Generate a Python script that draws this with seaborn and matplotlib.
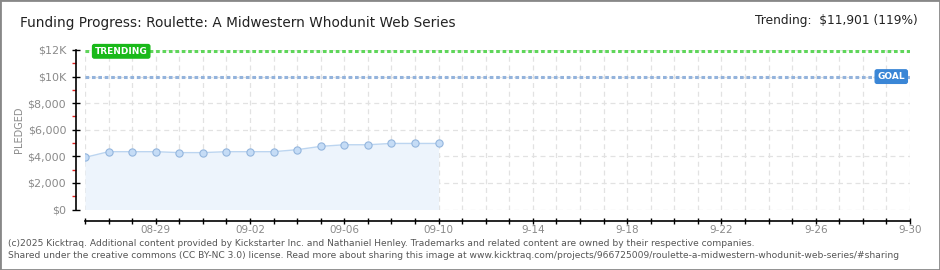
import numpy as np
import pandas as pd
import matplotlib
matplotlib.use("Agg")
import matplotlib.pyplot as plt
import seaborn as sns

# ---- data ----
dates = ["2025-08-26", "2025-08-27", "2025-08-28", "2025-08-29", "2025-08-30", "2025-08-31",
         "2025-09-01", "2025-09-02", "2025-09-03", "2025-09-04", "2025-09-05", "2025-09-06",
         "2025-09-07", "2025-09-08", "2025-09-09", "2025-09-10"]
pledged = [3920, 4350, 4350, 4350, 4280, 4280, 4350, 4350, 4350, 4500, 4750, 4870,
           4870, 4970, 4970, 4970]
goal = 10000
trending = 11901
x_start = "2025-08-26"
x_end = "2025-09-30"
xtick_dates = ["2025-08-29", "2025-09-02", "2025-09-06", "2025-09-10", "2025-09-14",
               "2025-09-18", "2025-09-22", "2025-09-26", "2025-09-30"]
xtick_labels = ["08-29", "09-02", "09-06", "09-10", "9-14", "9-18", "9-22", "9-26", "9-30"]
ytick_vals = [0, 2000, 4000, 6000, 8000, 10000, 12000]
ytick_labels = ["$0", "$2,000", "$4,000", "$6,000", "$8,000", "$10K", "$12K"]

df = pd.DataFrame({"date": pd.to_datetime(dates), "pledged": pledged})

sns.set_theme(style="white")
plt.rcParams["font.family"] = ["DejaVu Sans"]

fig = plt.figure(figsize=(9.4, 2.7), dpi=100)
W, H = 940, 270
ax = fig.add_axes([85 / W, 1 - 209.5 / H, 825 / W, 159.5 / H])

x0 = pd.Timestamp(x_start)
x1 = pd.Timestamp(x_end)

# grid
for d in pd.date_range(x0, x1, freq="D"):
    ax.axvline(d, color="#e2e2e2", lw=0.9, ls=(0, (4, 3)), zorder=0)
for v in ytick_vals:
    ax.axhline(v, color="#e2e2e2", lw=0.9, ls=(0, (4, 3)), zorder=0)

# area + line
ax.fill_between(df["date"], 0, df["pledged"], color="#edf4fc", zorder=1, lw=0)
sns.lineplot(data=df, x="date", y="pledged", ax=ax, color="#bcd5f0", lw=1.0,
             marker="o", markersize=5.2, markerfacecolor="#c5dcf6",
             markeredgecolor="#94b6de", markeredgewidth=0.8, zorder=3)

# goal & trending lines
ax.plot([x0, x1], [trending, trending], color="#5fd65a", lw=2.2, ls=(0, (1.2, 0.9)), zorder=2)
ax.plot([x0, x1], [goal, goal], color="#93b3dc", lw=2.2, ls=(0, (1.2, 0.9)), zorder=2)

ax.text(pd.Timestamp("2025-08-26 10:00"), trending, "TRENDING", color="white", fontsize=6.5,
        fontweight="bold", va="center", ha="left", zorder=5,
        bbox=dict(boxstyle="round,pad=0.25,rounding_size=0.2", fc="#19b919", ec="#19b919"))
ax.text(pd.Timestamp("2025-09-29 19:00"), goal, "GOAL", color="white", fontsize=6.5,
        fontweight="bold", va="center", ha="right", zorder=5,
        bbox=dict(boxstyle="round,pad=0.25,rounding_size=0.2", fc="#3a86d6", ec="#3a86d6"))

ax.set_xlim(x0, x1)
ax.set_ylim(0, 12000)

ax.set_yticks(ytick_vals)
ax.set_yticklabels(ytick_labels)
ax.set_yticks(np.arange(1000, 12000, 2000), minor=True)
ax.set_xticks(pd.date_range(x0, x1, freq="D"), minor=True)
ax.set_xticks(pd.to_datetime(xtick_dates))
ax.set_xticklabels(xtick_labels)

ax.tick_params(axis="y", which="major", direction="inout", length=6, width=1,
               color="black", labelsize=8, labelcolor="#8a8a8a", pad=4, left=True)
ax.tick_params(axis="y", which="minor", direction="out", length=3, width=1,
               color="#e02020", left=True)
ax.tick_params(axis="x", which="both", direction="inout", length=5, width=1,
               color="black", labelsize=7.5, labelcolor="#8a8a8a", pad=1, bottom=True)

ax.set_xlabel("")
ax.set_ylabel("PLEDGED", fontsize=7, color="#8a8a8a", labelpad=10)
ax.yaxis.set_label_coords(-61 / 825, 0.5)
ax.grid(False)

sns.despine(ax=ax, offset={"left": 6.5, "bottom": 8})
for s in ("left", "bottom"):
    ax.spines[s].set_color("black")
    ax.spines[s].set_linewidth(1.2)

# title & header
fig.text(20 / W, 1 - 23 / H, "Funding Progress: Roulette: A Midwestern Whodunit Web Series",
         fontsize=9.8, color="#222222", va="center", ha="left")
fig.text(918 / W, 1 - 21 / H, "Trending:  $11,901 (119%)", fontsize=8.8, color="#222222",
         va="center", ha="right")

# footer
fig.text(8 / W, 1 - 244 / H,
         "(c)2025 Kicktraq. Additional content provided by Kickstarter Inc. and Nathaniel Henley. "
         "Trademarks and related content are owned by their respective companies.",
         fontsize=6.6, color="#555555", va="center", ha="left")
fig.text(8 / W, 1 - 256 / H,
         "Shared under the creative commons (CC BY-NC 3.0) license. Read more about sharing this image at "
         "www.kicktraq.com/projects/966725009/roulette-a-midwestern-whodunit-web-series/#sharing",
         fontsize=6.6, color="#555555", va="center", ha="left")

# border
fig.patches.append(plt.Rectangle((0, 0), 1, 1, transform=fig.transFigure, fill=False,
                                 ec="#888888", lw=2))

fig.savefig("out.png", dpi=100)
